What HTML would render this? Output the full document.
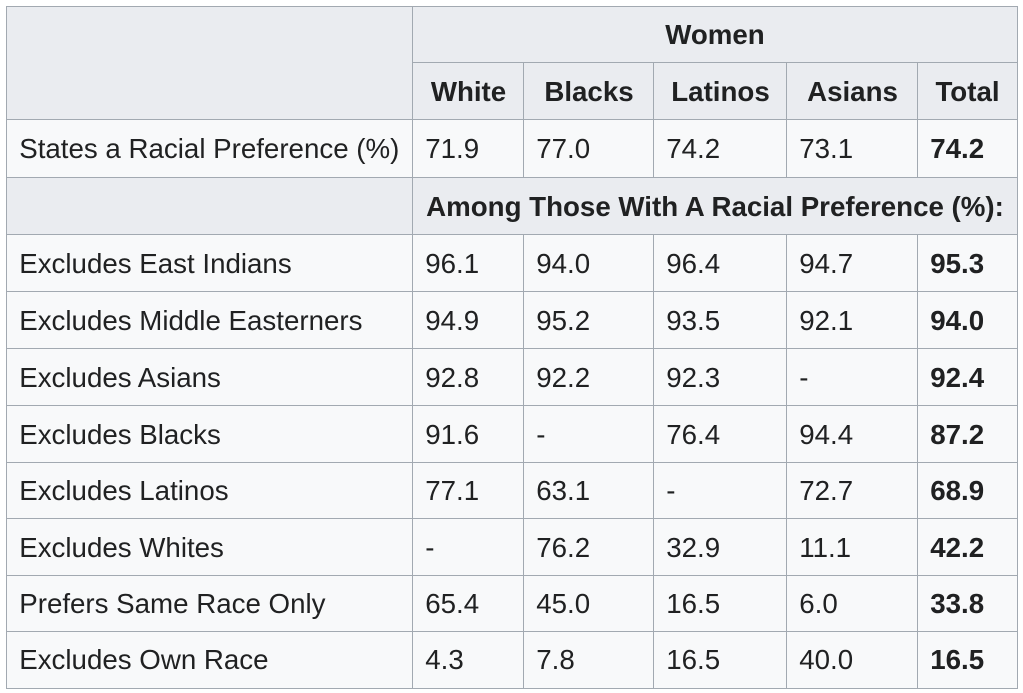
<!DOCTYPE html>
<html><head><style>
body{margin:0;background:#fff;width:1023px;height:693px;position:relative;overflow:hidden;font-family:"Liberation Sans",Arial,sans-serif;color:#202122}
.c{position:absolute;box-sizing:border-box;border:1.5px solid #a2a9b1;background:#f8f9fa;font-size:27.7px;display:flex;align-items:center;padding-left:12px;margin:-0.75px 0 0 -0.75px;white-space:nowrap}
.h{background:#eaecf0;font-weight:bold;justify-content:center;padding-left:0}
.b{font-weight:bold}
</style></head><body>
<div id="t"></div>
<script>
const X=[7,413,524,654,787,918,1017];
const Y=[7,63,120,178,235,292,349,406,463,519,576,632,688];
let h='';
function cell(x0,x1,y0,y1,txt,cls){h+=`<div class="c ${cls}" style="left:${x0}px;top:${y0}px;width:${x1-x0+1.5}px;height:${y1-y0+1.5}px">${txt}</div>`;}
cell(X[0],X[1],Y[0],Y[2],'','h');
cell(X[1],X[6],Y[0],Y[1],'Women','h');
['White','Blacks','Latinos','Asians','Total'].forEach((t,i)=>cell(X[i+1],X[i+2],Y[1],Y[2],t,'h'));
const rows=[
['States a Racial Preference (%)','71.9','77.0','74.2','73.1','74.2'],
null,
['Excludes East Indians','96.1','94.0','96.4','94.7','95.3'],
['Excludes Middle Easterners','94.9','95.2','93.5','92.1','94.0'],
['Excludes Asians','92.8','92.2','92.3','-','92.4'],
['Excludes Blacks','91.6','-','76.4','94.4','87.2'],
['Excludes Latinos','77.1','63.1','-','72.7','68.9'],
['Excludes Whites','-','76.2','32.9','11.1','42.2'],
['Prefers Same Race Only','65.4','45.0','16.5','6.0','33.8'],
['Excludes Own Race','4.3','7.8','16.5','40.0','16.5']];
rows.forEach((r,k)=>{const y0=Y[k+2],y1=Y[k+3];
 if(!r){cell(X[0],X[1],y0,y1,'','h');cell(X[1],X[6],y0,y1,'Among Those With A Racial Preference (%):','h');return;}
 r.forEach((t,i)=>cell(X[i],X[i+1],y0,y1,t,i==5?'b':''));});
document.getElementById('t').innerHTML=h;
</script>
</body></html>
